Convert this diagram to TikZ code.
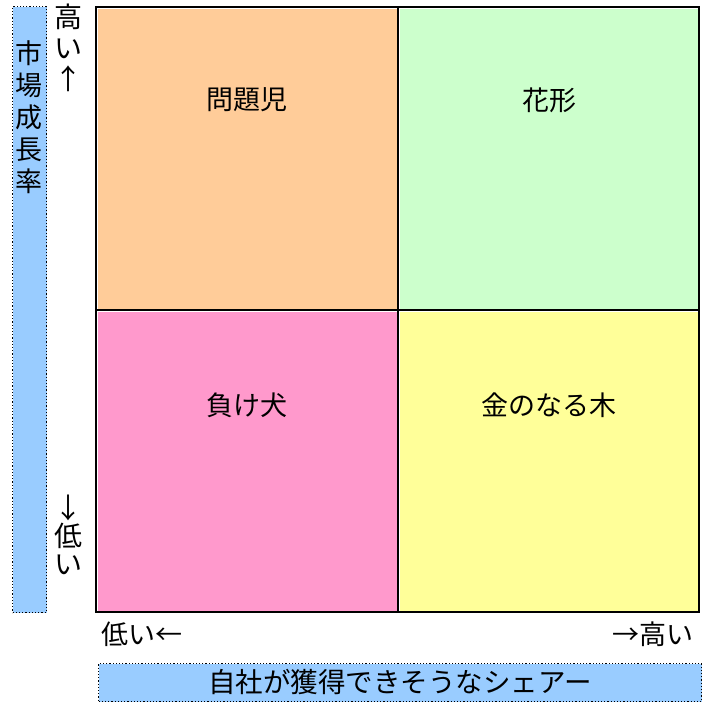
\documentclass[tikz,border=0pt]{standalone}
\usepackage{fontspec}
\setmainfont{Noto Sans CJK JP}
\definecolor{qorange}{HTML}{FFCC99}
\definecolor{qgreen}{HTML}{CCFFCC}
\definecolor{qpink}{HTML}{FF99CC}
\definecolor{qyellow}{HTML}{FFFF99}
\definecolor{barblue}{HTML}{99CCFF}
\tikzset{
  quad/.style={draw=white, line width=1pt, anchor=north west, inner sep=0pt},
  qlabel/.style={font=\fontsize{27}{27}\selectfont, inner sep=0pt},
  axisbar/.style={fill=barblue, draw=black, dotted, line width=1.2pt, anchor=north west, inner sep=0pt},
  axtext/.style={font=\fontsize{27}{27}\selectfont, inner sep=0pt},
}
\begin{document}
\begin{tikzpicture}[x=1pt,y=-1pt]
\useasboundingbox (0,0) rectangle (706,702);
% quadrants
\node[quad, fill=qorange, minimum width=301pt, minimum height=302pt] (q1) at (96.5,7.5) {};
\node[quad, fill=qgreen, minimum width=299pt, minimum height=302pt] (q2) at (398.5,7.5) {};
\node[quad, fill=qpink, minimum width=301pt, minimum height=301pt] (q3) at (96.5,310.5) {};
\node[quad, fill=qyellow, minimum width=299pt, minimum height=301pt] (q4) at (398.5,310.5) {};
% frame and dividers
\node[draw=black, line width=2pt, anchor=north west, inner sep=0pt, minimum width=603pt, minimum height=605pt] (frame) at (95,6) {};
\coordinate (vt) at (398,6);
\coordinate (vb) at (398,611);
\coordinate (hl) at (95,310);
\coordinate (hr) at (698,310);
\draw[line width=2pt] (vt) -- (vb);
\draw[line width=2pt] (hl) -- (hr);
% quadrant labels
\node[qlabel] (l1) at (247,100) {問題児};
\node[qlabel] (l2) at (549,100) {花形};
\node[qlabel] (l3) at (247,405) {負け犬};
\node[qlabel] (l4) at (549,405) {金のなる木};
% left axis bar
\node[axisbar, minimum width=34pt, minimum height=606pt] (lbar) at (12,6) {};
\node[font=\fontsize{27}{32}\selectfont, align=center, inner sep=0pt, anchor=north] (ltxt) at (29,40) {市\\場\\成\\長\\率};
% vertical axis ends
\node[axtext, align=center, anchor=north, font=\fontsize{28}{31}\selectfont] (vhigh) at (68,4) {高\\い\\↑};
\node[axtext, align=center, anchor=south, font=\fontsize{28}{28}\selectfont] (vlow) at (68,575) {↓\\低\\い};
% horizontal axis ends
\node[axtext, anchor=west] (hlow) at (101,634) {低い←};
\node[axtext, anchor=east] (hhigh) at (694,634) {→高い};
% bottom axis bar
\node[axisbar, minimum width=603pt, minimum height=38pt] (bbar) at (98,663) {};
\node[font=\fontsize{27.5}{27.5}\selectfont, inner sep=0pt] (btxt) at (400,682) {自社が獲得できそうなシェアー};
\end{tikzpicture}
\end{document}
